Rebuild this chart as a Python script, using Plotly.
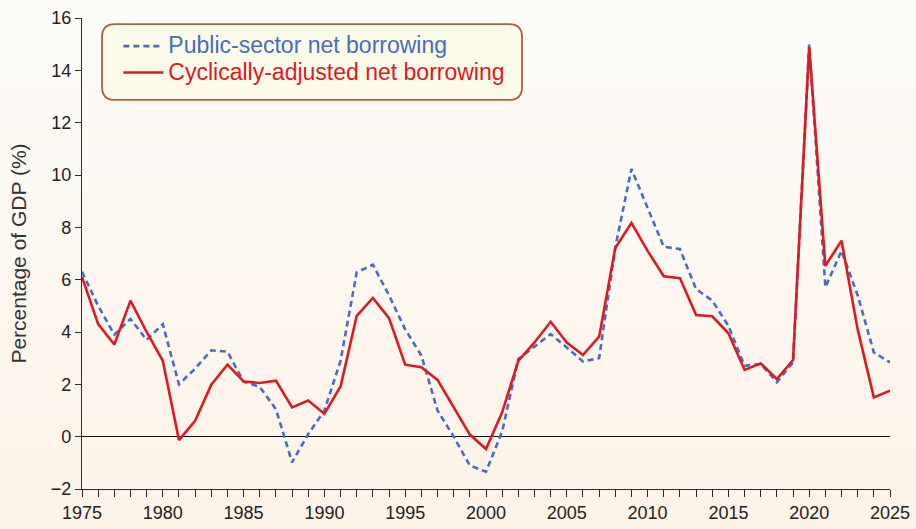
import plotly.graph_objects as go

# ---------------------------------------------------------------------------
# Data (percentage of GDP)
# ---------------------------------------------------------------------------
years = list(range(1975, 2026))

public_sector_nb = [
    6.3, 5.0, 3.9, 4.5, 3.7, 4.3, 2.0, 2.6, 3.3, 3.25,
    2.1, 1.9, 1.05, -0.98, 0.1, 1.0, 2.9, 6.28, 6.57, 5.4,
    4.1, 3.1, 1.0, 0.0, -1.1, -1.34, 0.2, 2.97, 3.44, 3.92,
    3.41, 2.87, 3.0, 7.23, 10.23, 8.76, 7.26, 7.17, 5.64, 5.2,
    4.24, 2.71, 2.78, 2.08, 2.84, 14.98, 5.71, 7.1, 5.4, 3.22,
    2.84,
]

cyclically_adjusted_nb = [
    6.1, 4.3, 3.52, 5.2, 4.0, 2.9, -0.13, 0.61, 1.99, 2.75,
    2.11, 2.05, 2.14, 1.12, 1.38, 0.87, 1.92, 4.62, 5.3, 4.53,
    2.75, 2.65, 2.17, 1.12, 0.08, -0.47, 0.93, 2.9, 3.6, 4.39,
    3.6, 3.12, 3.82, 7.21, 8.17, 7.1, 6.13, 6.06, 4.65, 4.6,
    3.95, 2.55, 2.8, 2.2, 2.93, 14.9, 6.53, 7.49, 4.1, 1.5,
    1.76,
]

x_ticks = [1975, 1980, 1985, 1990, 1995, 2000, 2005, 2010, 2015, 2020, 2025]
y_ticks = [-2, 0, 2, 4, 6, 8, 10, 12, 14, 16]

BLUE = "#4a6cbd"
RED = "#dc1a23"
AXIS_COLOR = "#2a2a2a"
FONT = "Liberation Sans, Arial, sans-serif"

# plot-area geometry in px (used to convert legend box corner radius)
PLOT_W, PLOT_H = 808, 471

fig = go.Figure()

fig.add_trace(go.Scatter(
    x=years, y=public_sector_nb,
    mode="lines",
    line=dict(color=BLUE, width=2.6, dash="6px,4px"),
    name=f"<span style='color:{BLUE};font-size:23px'>Public-sector net borrowing</span>",
))
fig.add_trace(go.Scatter(
    x=years, y=cyclically_adjusted_nb,
    mode="lines",
    line=dict(color=RED, width=2.6),
    name=f"<span style='color:{RED};font-size:23px'>Cyclically-adjusted net borrowing</span>",
))

# ---------------------------------------------------------------------------
# Background: soft vertical gradient (white at top -> peach at bottom)
# ---------------------------------------------------------------------------
shapes = []
n_bands = 24
top_rgb = (253, 252, 249)
bot_rgb = (253, 243, 231)
y_lo, y_hi = -0.09, 1.05
for i in range(n_bands):
    f = i / (n_bands - 1)
    r = round(bot_rgb[0] + (top_rgb[0] - bot_rgb[0]) * f)
    g = round(bot_rgb[1] + (top_rgb[1] - bot_rgb[1]) * f)
    b = round(bot_rgb[2] + (top_rgb[2] - bot_rgb[2]) * f)
    y0 = y_lo + (y_hi - y_lo) * i / n_bands
    y1 = y_lo + (y_hi - y_lo) * (i + 1) / n_bands + 0.002
    shapes.append(dict(
        type="rect", xref="paper", yref="paper",
        x0=-0.12, x1=1.05, y0=y0, y1=y1,
        fillcolor=f"rgb({r},{g},{b})", line=dict(width=0), layer="below",
    ))

# ---------------------------------------------------------------------------
# Rounded legend box
# ---------------------------------------------------------------------------
lx0, lx1 = 0.0248, 0.5446
ly0, ly1 = 0.826, 0.987
rx, ry = 13 / PLOT_W, 13 / PLOT_H
path = (
    f"M {lx0 + rx},{ly1} L {lx1 - rx},{ly1} Q {lx1},{ly1} {lx1},{ly1 - ry} "
    f"L {lx1},{ly0 + ry} Q {lx1},{ly0} {lx1 - rx},{ly0} "
    f"L {lx0 + rx},{ly0} Q {lx0},{ly0} {lx0},{ly0 + ry} "
    f"L {lx0},{ly1 - ry} Q {lx0},{ly1} {lx0 + rx},{ly1} Z"
)
shapes.append(dict(
    type="path", xref="paper", yref="paper", path=path,
    fillcolor="#fcfbea", line=dict(color="#a8603a", width=1.8), layer="above",
))

fig.update_layout(
    width=916, height=529,
    margin=dict(l=82, r=26, t=18, b=40),
    paper_bgcolor="#fdf6ee",
    plot_bgcolor="white",
    shapes=shapes,
    showlegend=True,
    legend=dict(
        x=0.045, y=0.979, xanchor="left", yanchor="top",
        bgcolor="rgba(0,0,0,0)",
        font=dict(family=FONT, size=18),
        tracegroupgap=0, itemwidth=40,
    ),
    xaxis=dict(
        range=[1975, 2025],
        tickvals=x_ticks,
        automargin=False,
        ticks="outside", ticklen=7, tickcolor=AXIS_COLOR, tickwidth=1,
        minor=dict(dtick=1, tick0=1975, ticks="outside", ticklen=7,
                   tickcolor=AXIS_COLOR, tickwidth=1),
        showline=True, linecolor=AXIS_COLOR, linewidth=1.2,
        showgrid=False, zeroline=False,
        tickfont=dict(family=FONT, size=18, color="#222222"),
    ),
    yaxis=dict(
        range=[-2, 16],
        tickvals=y_ticks,
        ticktext=["\u22122" if v < 0 else str(v) for v in y_ticks],
        automargin=False,
        ticks="outside", ticklen=6, tickcolor=AXIS_COLOR, tickwidth=1,
        showline=True, linecolor=AXIS_COLOR, linewidth=1.2,
        showgrid=False,
        zeroline=True, zerolinecolor="#111111", zerolinewidth=1.2,
        tickfont=dict(family=FONT, size=18, color="#222222"),
        title=dict(text="Percentage of GDP (%)", standoff=18,
                   font=dict(family=FONT, size=21, color="#333333")),
    ),
)

# the page body has a default 8px margin; drop it so the figure fills the window
fig.write_html(
    "out.html",
    config={"displayModeBar": False},
    post_script="document.body.style.margin = '0';",
)
